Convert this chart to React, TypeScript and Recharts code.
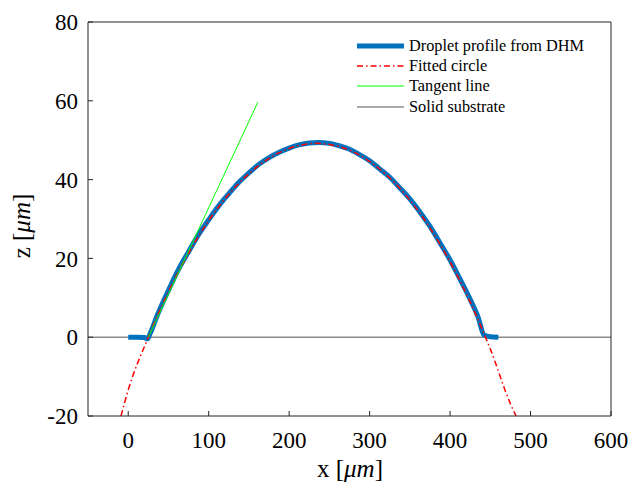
import { LineChart, Line, XAxis, YAxis, Legend } from 'recharts';

// droplet profile measured by DHM (x, z in µm)
const profileX = [0, 10, 20, 24, 27, 37, 50, 62, 75, 87, 100, 112, 125, 137, 150, 162, 175, 187, 200, 212, 225, 237, 250, 262, 275, 287, 300, 312, 325, 337, 350, 362, 375, 387, 400, 412, 425, 435, 442, 450, 460];
const profileZ = [0, 0, -0.1, -0.4, 0.8, 6.0, 11.9, 17.0, 21.7, 25.9, 29.8, 33.2, 36.4, 39.2, 41.7, 43.8, 45.6, 46.9, 48.0, 48.8, 49.3, 49.4, 49.2, 48.6, 47.7, 46.4, 44.8, 42.8, 40.6, 38.0, 35.1, 31.9, 28.1, 24.1, 19.6, 14.9, 9.6, 5.0, 0.6, 0.1, 0];

// fitted circle
const circleX = [-9, 0, 25, 50, 75, 100, 125, 150, 175, 200, 225, 235, 250, 275, 300, 325, 350, 375, 400, 425, 444, 450, 475, 482];
const circleZ = [-20, -13.4, 0, 11.5, 21.3, 29.6, 36.3, 41.5, 45.4, 47.9, 49.1, 49.2, 48.9, 47.5, 44.6, 40.4, 34.8, 27.7, 19.1, 8.9, 0, -3.0, -16.9, -20];

// tangent line at the left contact point
const tangentX = [25, 161];
const tangentZ = [0, 59.6];

// solid substrate
const substrateX = [-50, 600];
const substrateZ = [0, 0];

const xTicks = [0, 100, 200, 300, 400, 500, 600];
const yTicks = [-20, 0, 20, 40, 60, 80];

const toPoints = (xs: number[], zs: number[]) => xs.map((x, i) => ({ x, z: zs[i] }));

const FONT = '"Liberation Serif", "Times New Roman", serif';
const AXIS = '#262626';

const legendItems = [
  { name: 'Droplet profile from DHM', color: '#0072BD', width: 5, dash: undefined },
  { name: 'Fitted circle', color: '#FF0000', width: 1.5, dash: '6 3 1.5 3' },
  { name: 'Tangent line', color: '#00FF00', width: 1, dash: undefined },
  { name: 'Solid substrate', color: '#8c8c8c', width: 1.5, dash: undefined },
];

const renderLegend = () => (
  <div style={{ fontFamily: FONT, fontSize: 16.3, color: '#000' }}>
    {legendItems.map(item => (
      <div key={item.name} style={{ display: 'flex', alignItems: 'center', height: 20.3 }}>
        <svg width={52} height={10} style={{ display: 'block' }}>
          <line x1={0} x2={47} y1={5} y2={5} stroke={item.color} strokeWidth={item.width} strokeDasharray={item.dash} />
        </svg>
        <span style={{ whiteSpace: 'nowrap' }}>{item.name}</span>
      </div>
    ))}
  </div>
);

const tickStyle = { fontSize: 23, fill: '#000', fontFamily: FONT };

export default function App() {
  return (
    <div style={{ position: 'absolute', left: 0, top: 0, width: 633, height: 488, background: '#fff' }}>
      <LineChart width={633} height={488} margin={{ top: 21, right: 21, bottom: 0, left: 0 }}>
        <XAxis
          xAxisId="bottom"
          dataKey="x"
          type="number"
          domain={[-50, 600]}
          ticks={xTicks}
          allowDataOverflow
          height={72}
          tickSize={-5}
          tickMargin={21}
          tick={tickStyle}
          stroke={AXIS}
          tickLine={{ stroke: AXIS }}
          label={() => (
            <text x={350} y={477} textAnchor="middle" fontFamily={FONT} fontSize={25} fill="#000">
              x [<tspan fontStyle="italic">μm</tspan>]
            </text>
          )}
        />
        <XAxis
          xAxisId="top"
          orientation="top"
          dataKey="x"
          type="number"
          domain={[-50, 600]}
          ticks={xTicks}
          allowDataOverflow
          height={1}
          tickSize={-5}
          tick={false}
          stroke={AXIS}
        />
        <YAxis
          yAxisId="left"
          dataKey="z"
          type="number"
          domain={[-20, 80]}
          ticks={yTicks}
          allowDataOverflow
          width={88}
          tickSize={-5}
          tickMargin={15}
          tick={tickStyle}
          stroke={AXIS}
          label={() => (
            <text x={30} y={226} transform="rotate(-90 30 226)" textAnchor="middle" fontFamily={FONT} fontSize={25} fill="#000">
              z [<tspan fontStyle="italic">μm</tspan>]
            </text>
          )}
        />
        <YAxis
          yAxisId="right"
          orientation="right"
          dataKey="z"
          type="number"
          domain={[-20, 80]}
          ticks={yTicks}
          allowDataOverflow
          width={1}
          tickSize={-5}
          tick={false}
          stroke={AXIS}
        />
        <Legend
          layout="vertical"
          align="center"
          verticalAlign="middle"
          content={renderLegend}
          wrapperStyle={{ position: 'absolute', left: 357, top: 35.5, width: 265, height: 82 }}
        />
        <Line
          xAxisId="bottom"
          yAxisId="left"
          data={toPoints(substrateX, substrateZ)}
          dataKey="z"
          type="linear"
          stroke="#8c8c8c"
          strokeWidth={1.5}
          dot={false}
          activeDot={false}
          isAnimationActive={false}
        />
        <Line
          xAxisId="bottom"
          yAxisId="left"
          data={toPoints(profileX, profileZ)}
          dataKey="z"
          type="monotone"
          stroke="#0072BD"
          strokeWidth={5}
          strokeLinejoin="round"
          dot={false}
          activeDot={false}
          isAnimationActive={false}
        />
        <Line
          xAxisId="bottom"
          yAxisId="left"
          data={toPoints(circleX, circleZ)}
          dataKey="z"
          type="monotone"
          stroke="#FF0000"
          strokeWidth={1.5}
          strokeDasharray="6 3 1.5 3"
          dot={false}
          activeDot={false}
          isAnimationActive={false}
        />
        <Line
          xAxisId="bottom"
          yAxisId="left"
          data={toPoints(tangentX, tangentZ)}
          dataKey="z"
          type="linear"
          stroke="#00FF00"
          strokeWidth={1}
          dot={false}
          activeDot={false}
          isAnimationActive={false}
        />
      </LineChart>
    </div>
  );
}
